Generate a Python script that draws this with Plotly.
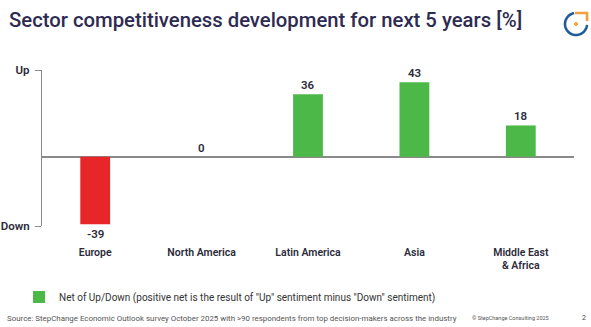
import numpy as np
import plotly.graph_objects as go

# Data
regions = ["Europe", "North America", "Latin America", "Asia", "Middle East<br>& Africa"]
net_values = [-39, 0, 36, 43, 18]
y_tick_values = [50, -40]
y_tick_labels = ["Up", "Down"]

title_text = "Sector competitiveness development for next 5 years [%]"
legend_text = 'Net of Up/Down (positive net is the result of "Up" sentiment minus "Down" sentiment)'
source_text = ("Source: StepChange Economic Outlook survey October 2025 with >90 respondents "
               "from top decision-makers across the industry")
copyright_text = "© StepChange Consulting 2025"
page_number = "2"

GREEN = "#4cb848"
RED = "#e8262a"
NAVY = "#2e2b52"
DARK = "#2b2b3a"
AXIS_GREY = "#8a8a8a"

W, H = 591, 327
L, R, T, B = 42, 17, 70, 101
PW, PH = W - L - R, H - T - B


def px(x):
    return (x - L) / PW


def py(y):
    return (H - B - y) / PH


pos_vals = [v if v >= 0 else None for v in net_values]
neg_vals = [v if v < 0 else None for v in net_values]

fig = go.Figure()
fig.add_trace(go.Bar(
    x=regions, y=pos_vals, marker=dict(color=GREEN, line=dict(width=0)),
    width=0.28, name=legend_text, showlegend=True,
))
fig.add_trace(go.Bar(
    x=regions, y=neg_vals, marker=dict(color=RED, line=dict(width=0)),
    width=0.28, showlegend=False,
))

# value labels placed from the same values
for cat, v in zip(regions, net_values):
    fig.add_annotation(
        x=cat, y=v, text=str(v), showarrow=False,
        yanchor="bottom" if v >= 0 else "top",
        yshift=0 if v >= 0 else -1,
        font=dict(family="Roboto", size=11.5, color=DARK, weight=600),
    )

# corner logo
cx, cy, r = 576, 24, 11
t = np.linspace(np.deg2rad(100), np.deg2rad(355), 60)
arc_pts = [(px(cx + r * np.cos(a)), py(cy - r * np.sin(a))) for a in t]
arc_path = "M " + " L ".join(f"{x:.5f},{y:.5f}" for x, y in arc_pts)
fig.add_shape(type="path", path=arc_path, xref="paper", yref="paper",
              line=dict(color="#1f5c99", width=2.6))
corner_path = (f"M {px(cx - 1):.5f},{py(cy - r):.5f} L {px(cx + r):.5f},{py(cy - r):.5f} "
               f"L {px(cx + r):.5f},{py(cy - 3):.5f}")
fig.add_shape(type="path", path=corner_path, xref="paper", yref="paper",
              line=dict(color="#f2a03d", width=2.6))
fig.add_shape(type="circle", xref="paper", yref="paper",
              x0=px(cx - 2), x1=px(cx + 2), y0=py(cy + 2), y1=py(cy - 2),
              fillcolor="#f2a03d", line=dict(width=0))

# title
fig.add_annotation(
    x=px(7), y=py(20), xref="paper", yref="paper", xanchor="left", yanchor="middle",
    text=title_text, showarrow=False,
    font=dict(family="Roboto", size=20.3, color=NAVY, weight=500),
)

# footer texts
fig.add_annotation(
    x=px(5), y=py(318), xref="paper", yref="paper", xanchor="left", yanchor="middle",
    text=source_text, showarrow=False,
    font=dict(family="Roboto", size=7.9, color="#555555"),
)
fig.add_annotation(
    x=px(470), y=py(318), xref="paper", yref="paper", xanchor="left", yanchor="middle",
    text=copyright_text, showarrow=False,
    font=dict(family="Roboto", size=5.5, color="#555555"),
)
fig.add_annotation(
    x=px(584), y=py(318), xref="paper", yref="paper", xanchor="center", yanchor="middle",
    text=page_number, showarrow=False,
    font=dict(family="Roboto", size=7, color="#444444"),
)

fig.update_layout(
    width=W, height=H,
    margin=dict(l=L, r=R, t=T, b=B, pad=0, autoexpand=False),
    paper_bgcolor="white", plot_bgcolor="white",
    barmode="overlay",
    showlegend=True,
    legend=dict(
        x=px(19), y=py(297), xanchor="left", yanchor="middle",
        orientation="h", bgcolor="rgba(0,0,0,0)",
        font=dict(family="Roboto", size=10, color="#333333"),
        itemwidth=30,
    ),
    xaxis=dict(
        showgrid=False, showline=False, ticks="", zeroline=False,
        tickfont=dict(family="Roboto", size=10.5, color=DARK, weight=600),
        ticklabelstandoff=18, automargin=False,
    ),
    yaxis=dict(
        range=[-40, 50], showgrid=False, automargin=False,
        showline=True, linecolor=AXIS_GREY, linewidth=1.2,
        ticks="outside", ticklen=6, tickcolor=AXIS_GREY, tickwidth=1.2,
        tickvals=y_tick_values, ticktext=y_tick_labels,
        tickfont=dict(family="Roboto", size=11.5, color=DARK, weight=600),
        ticklabelstandoff=3,
        zeroline=True, zerolinecolor=AXIS_GREY, zerolinewidth=1.5,
    ),
)

fig.write_html("out.html")
